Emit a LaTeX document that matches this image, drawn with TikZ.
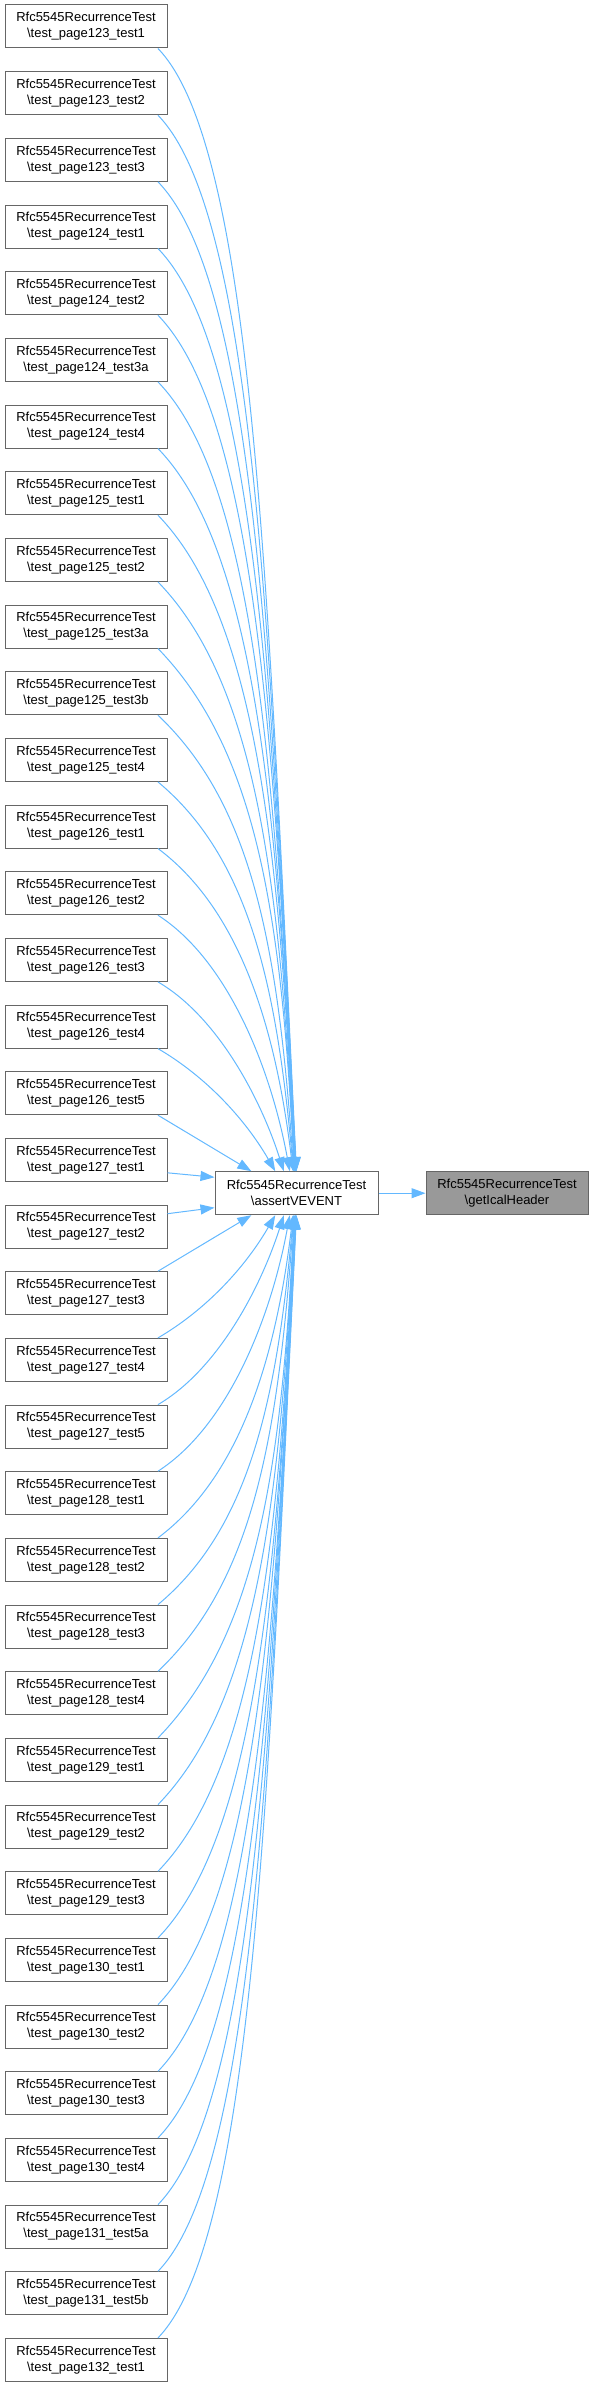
\documentclass[tikz,border=0pt]{standalone}
\usepackage{fontspec}
\setmainfont{Liberation Sans}
\usetikzlibrary{arrows.meta}
\definecolor{boxline}{HTML}{666666}
\definecolor{callline}{HTML}{63B8FF}
\definecolor{hilitefill}{HTML}{999999}
\newcommand{\cls}{Rfc5545RecurrenceTest}

\begin{document}
\begin{tikzpicture}[x=0.75pt,y=-0.75pt,line width=0.75pt,
  func/.style={draw=boxline,fill=white,inner sep=0pt,minimum width=121.5pt,minimum height=32.25pt,align=center,font=\fontsize{9.75}{12}\selectfont},
  hilite/.style={func,fill=hilitefill},
  call/.style={draw=callline,-{Triangle[length=10.5pt,width=7.5pt]}}]
\path[use as bounding box] (0,0) rectangle (594,2387);
\node[func] (p123t1) at (86,26.5) {\cls\\\textbackslash test\_page123\_test1};
\node[func] (p123t2) at (86,93.2) {\cls\\\textbackslash test\_page123\_test2};
\node[func] (p123t3) at (86,159.8) {\cls\\\textbackslash test\_page123\_test3};
\node[func] (p124t1) at (86,226.5) {\cls\\\textbackslash test\_page124\_test1};
\node[func] (p124t2) at (86,293.2) {\cls\\\textbackslash test\_page124\_test2};
\node[func] (p124t3a) at (86,359.9) {\cls\\\textbackslash test\_page124\_test3a};
\node[func] (p124t4) at (86,426.5) {\cls\\\textbackslash test\_page124\_test4};
\node[func] (p125t1) at (86,493.2) {\cls\\\textbackslash test\_page125\_test1};
\node[func] (p125t2) at (86,559.9) {\cls\\\textbackslash test\_page125\_test2};
\node[func] (p125t3a) at (86,626.5) {\cls\\\textbackslash test\_page125\_test3a};
\node[func] (p125t3b) at (86,693.2) {\cls\\\textbackslash test\_page125\_test3b};
\node[func] (p125t4) at (86,759.9) {\cls\\\textbackslash test\_page125\_test4};
\node[func] (p126t1) at (86,826.5) {\cls\\\textbackslash test\_page126\_test1};
\node[func] (p126t2) at (86,893.2) {\cls\\\textbackslash test\_page126\_test2};
\node[func] (p126t3) at (86,959.9) {\cls\\\textbackslash test\_page126\_test3};
\node[func] (p126t4) at (86,1026.6) {\cls\\\textbackslash test\_page126\_test4};
\node[func] (p126t5) at (86,1093.2) {\cls\\\textbackslash test\_page126\_test5};
\node[func] (p127t1) at (86,1159.9) {\cls\\\textbackslash test\_page127\_test1};
\node[func] (p127t2) at (86,1226.6) {\cls\\\textbackslash test\_page127\_test2};
\node[func] (p127t3) at (86,1293.2) {\cls\\\textbackslash test\_page127\_test3};
\node[func] (p127t4) at (86,1359.9) {\cls\\\textbackslash test\_page127\_test4};
\node[func] (p127t5) at (86,1426.6) {\cls\\\textbackslash test\_page127\_test5};
\node[func] (p128t1) at (86,1493.2) {\cls\\\textbackslash test\_page128\_test1};
\node[func] (p128t2) at (86,1559.9) {\cls\\\textbackslash test\_page128\_test2};
\node[func] (p128t3) at (86,1626.6) {\cls\\\textbackslash test\_page128\_test3};
\node[func] (p128t4) at (86,1693.3) {\cls\\\textbackslash test\_page128\_test4};
\node[func] (p129t1) at (86,1759.9) {\cls\\\textbackslash test\_page129\_test1};
\node[func] (p129t2) at (86,1826.6) {\cls\\\textbackslash test\_page129\_test2};
\node[func] (p129t3) at (86,1893.3) {\cls\\\textbackslash test\_page129\_test3};
\node[func] (p130t1) at (86,1959.9) {\cls\\\textbackslash test\_page130\_test1};
\node[func] (p130t2) at (86,2026.6) {\cls\\\textbackslash test\_page130\_test2};
\node[func] (p130t3) at (86,2093.3) {\cls\\\textbackslash test\_page130\_test3};
\node[func] (p130t4) at (86,2159.9) {\cls\\\textbackslash test\_page130\_test4};
\node[func] (p131t5a) at (86,2226.6) {\cls\\\textbackslash test\_page131\_test5a};
\node[func] (p131t5b) at (86,2293.3) {\cls\\\textbackslash test\_page131\_test5b};
\node[func] (p132t1) at (86,2359.9) {\cls\\\textbackslash test\_page132\_test1};
\node[func,minimum width=122.25pt] (assert) at (296.5,1193.2) {\cls\\\textbackslash assertVEVENT};
\node[hilite] (header) at (507,1193.2) {\cls\\\textbackslash getIcalHeader};
\draw[call] (p123t1.-17) .. controls +(97,100) and +(-28,-562) .. (assert.90);
\draw[call] (p123t2.-17) .. controls +(97,100) and +(-26,-529) .. (assert.91);
\draw[call] (p123t3.-17) .. controls +(97,100) and +(-25,-495) .. (assert.91);
\draw[call] (p124t1.-17) .. controls +(97,100) and +(-23,-462) .. (assert.92);
\draw[call] (p124t2.-17) .. controls +(97,100) and +(-21,-429) .. (assert.92);
\draw[call] (p124t3a.-17) .. controls +(97,100) and +(-20,-395) .. (assert.93);
\draw[call] (p124t4.-17) .. controls +(97,100) and +(-18,-362) .. (assert.93);
\draw[call] (p125t1.-17) .. controls +(97,100) and +(-16,-329) .. (assert.94);
\draw[call] (p125t2.-17) .. controls +(97,100) and +(-15,-295) .. (assert.95);
\draw[call] (p125t3a.-17) .. controls +(97,100) and +(-13,-262) .. (assert.96);
\draw[call] (p125t3b.-17) .. controls +(95,90) and +(-16,-224) .. (assert.97);
\draw[call] (p125t4.-17) .. controls +(90,75) and +(-17,-189) .. (assert.98);
\draw[call] (p126t1.-17) .. controls +(80,60) and +(-18,-149) .. (assert.99);
\draw[call] (p126t2.-17) .. controls +(70,45) and +(-19,-103) .. (assert.107);
\draw[call] (p126t3.-17) .. controls +(60,35) and +(-23,-72) .. (assert.120);
\draw[call] (p126t4.-17) .. controls +(48,28) and +(-30,-52) .. (assert.134);
\draw[call] (p126t5.-17) -- (assert.154);
\draw[call] (p127t1.-9) -- (assert.169);
\draw[call] (p127t2.9) -- (assert.190);
\draw[call] (p127t3.17) -- (assert.206);
\draw[call] (p127t4.17) .. controls +(48,-28) and +(-30,52) .. (assert.226);
\draw[call] (p127t5.17) .. controls +(60,-35) and +(-23,72) .. (assert.240);
\draw[call] (p128t1.17) .. controls +(70,-45) and +(-19,103) .. (assert.253);
\draw[call] (p128t2.17) .. controls +(80,-60) and +(-18,149) .. (assert.261);
\draw[call] (p128t3.17) .. controls +(90,-75) and +(-17,189) .. (assert.262);
\draw[call] (p128t4.17) .. controls +(95,-90) and +(-16,224) .. (assert.263);
\draw[call] (p129t1.17) .. controls +(97,-100) and +(-13,262) .. (assert.264);
\draw[call] (p129t2.17) .. controls +(97,-100) and +(-15,295) .. (assert.265);
\draw[call] (p129t3.17) .. controls +(97,-100) and +(-16,329) .. (assert.266);
\draw[call] (p130t1.17) .. controls +(97,-100) and +(-18,362) .. (assert.267);
\draw[call] (p130t2.17) .. controls +(97,-100) and +(-20,395) .. (assert.267);
\draw[call] (p130t3.17) .. controls +(97,-100) and +(-21,429) .. (assert.268);
\draw[call] (p130t4.17) .. controls +(97,-100) and +(-23,462) .. (assert.268);
\draw[call] (p131t5a.17) .. controls +(97,-100) and +(-25,495) .. (assert.269);
\draw[call] (p131t5b.17) .. controls +(97,-100) and +(-26,529) .. (assert.269);
\draw[call] (p132t1.17) .. controls +(97,-100) and +(-28,562) .. (assert.270);
\draw[call] (assert) -- (header);
\end{tikzpicture}
\end{document}
